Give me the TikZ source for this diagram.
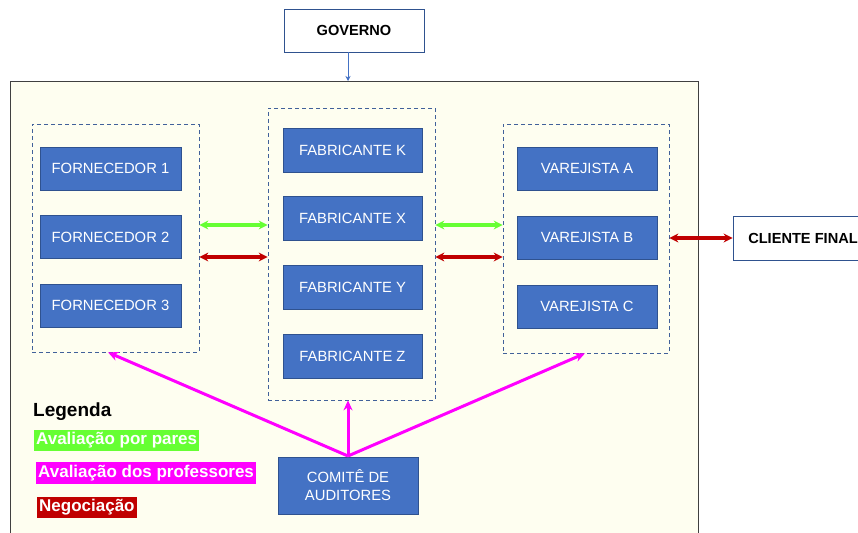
\documentclass[tikz,border=0pt]{standalone}
\usepackage{fontspec}
\setmainfont{Liberation Sans}
\usetikzlibrary{arrows.meta}
\definecolor{bgyel}{HTML}{FEFEF0}
\definecolor{boxblue}{HTML}{4472C4}
\definecolor{boxedge}{HTML}{2F528F}
\definecolor{dashc}{HTML}{41619A}
\definecolor{lgreen}{HTML}{66FF33}
\definecolor{lmag}{HTML}{FF00FF}
\definecolor{lred}{HTML}{C00000}
\tikzset{
  bluebox/.style={draw=boxedge, fill=boxblue, text=white, line width=0.8pt, inner sep=0pt,
    font=\fontsize{14.8}{18}\selectfont, align=center},
  whitebox/.style={draw=boxedge, fill=white, line width=0.8pt, inner sep=0pt,
    font=\fontsize{14.6}{17}\selectfont\bfseries, align=center},
  grp/.style={draw=dashc, dashed, dash pattern=on 4pt off 3pt, line width=0.7pt, inner sep=0pt},
  greenarr/.style={draw=lgreen, line width=3.3pt, {Stealth[length=9pt,width=9pt]}-{Stealth[length=9pt,width=9pt]}},
  redarr/.style={draw=lred, line width=3.3pt, {Stealth[length=9pt,width=9pt]}-{Stealth[length=9pt,width=9pt]}},
  magarr/.style={draw=lmag, line width=3pt, -{Stealth[length=10pt,width=9pt]}},
  leg/.style={text=white, font=\fontsize{17}{19}\selectfont\bfseries, inner xsep=2pt, inner ysep=3pt, anchor=west}
}
\begin{document}
\begin{tikzpicture}[x=1pt,y=-1pt]
\clip (0,0) rectangle (858,532);
\useasboundingbox (0,0) rectangle (858,532);
\fill[white] (0,0) rectangle (858,532);
% big background
\draw[fill=bgyel, draw=black!75, line width=0.8pt] (10,81) rectangle (698,560);
\coordinate (bgtop) at (348,81);
% governo
\node[whitebox, minimum width=140, minimum height=43] (gov) at (354,30.5) {GOVERNO};
\draw[draw=boxblue, line width=0.6pt, -{Stealth[length=5pt,width=5pt]}] (gov.south -| bgtop) -- (bgtop);
% groups
\node[grp, minimum width=167, minimum height=228] (g1) at (115.5,238) {};
\node[grp, minimum width=167, minimum height=292] (g2) at (351.5,254) {};
\node[grp, minimum width=166, minimum height=229] (g3) at (586,238.5) {};
% fornecedores
\node[bluebox, minimum width=141, minimum height=43] (f1) at (110.5,168.5) {FORNECEDOR 1};
\node[bluebox, minimum width=141, minimum height=43] (f2) at (110.5,237) {FORNECEDOR 2};
\node[bluebox, minimum width=141, minimum height=43] (f3) at (110.5,305.5) {FORNECEDOR 3};
% fabricantes
\node[bluebox, minimum width=139, minimum height=44] (fk) at (352.5,150) {FABRICANTE K};
\node[bluebox, minimum width=139, minimum height=44] (fx) at (352.5,218.5) {FABRICANTE X};
\node[bluebox, minimum width=139, minimum height=44] (fy) at (352.5,287) {FABRICANTE Y};
\node[bluebox, minimum width=139, minimum height=44] (fz) at (352.5,356) {FABRICANTE Z};
% varejistas
\node[bluebox, minimum width=140, minimum height=43] (va) at (587,168.5) {VAREJISTA A};
\node[bluebox, minimum width=140, minimum height=43] (vb) at (587,237.5) {VAREJISTA B};
\node[bluebox, minimum width=140, minimum height=43] (vc) at (587,306.5) {VAREJISTA C};
% cliente final
\node[whitebox, minimum width=140, minimum height=44] (cf) at (803,238) {CLIENTE FINAL};
% comite
\node[bluebox, minimum width=140, minimum height=57] (com) at (348,485.5) {COMITÊ DE\\AUDITORES};
% arrows between groups
\draw[greenarr] (g1.east |- 0,225) -- (g2.west |- 0,225);
\draw[redarr] (g1.east |- 0,257) -- (g2.west |- 0,257);
\draw[greenarr] (g2.east |- 0,225) -- (g3.west |- 0,225);
\draw[redarr] (g2.east |- 0,257) -- (g3.west |- 0,257);
\draw[redarr] (g3.east |- cf.west) -- (cf.west);
% magenta arrows
\coordinate (ctop) at (348,456);
\draw[magarr] (ctop) -- (ctop |- g2.south);
\draw[magarr] (ctop) -- (g1.south -| 108,0);
\draw[magarr] (ctop) -- (g3.south -| 585,0);
% legend
\node[anchor=west, font=\fontsize{19}{21}\selectfont\bfseries, inner sep=0pt] (legt) at (33,412) {Legenda};
\node[leg, fill=lgreen] (l1) at (34,440.5) {Avaliação por pares};
\node[leg, fill=lmag] (l2) at (36,473) {Avaliação dos professores};
\node[leg, fill=lred] (l3) at (37,507.5) {Negociação};
\end{tikzpicture}
\end{document}
